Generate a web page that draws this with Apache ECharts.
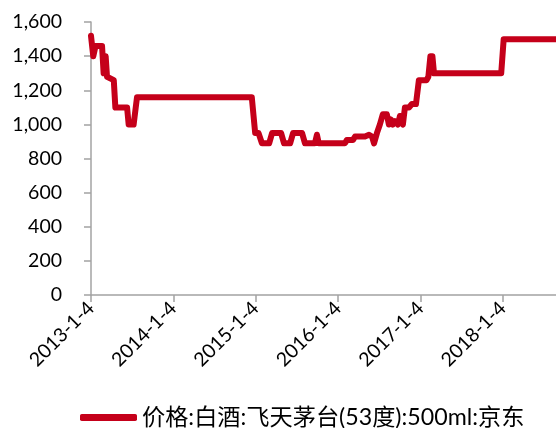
<!DOCTYPE html>
<html>
<head>
<meta charset="utf-8">
<script src="https://cdn.jsdelivr.net/npm/echarts@6/dist/echarts.min.js"></script>
<style>
  html, body { margin: 0; padding: 0; background: #fff; }
  #chart { width: 556px; height: 428px; }
</style>
</head>
<body>
<div id="chart"></div>
<script>
// Weekly JD retail price of Feishen Moutai 53° 500ml (yuan)
const seriesName = '价格:白酒:飞天茅台(53度):500ml:京东';

const dates = [
  '2013-01-04', '2013-01-14', '2013-01-24', '2013-02-22', '2013-03-01', '2013-03-10',
  '2013-03-16', '2013-04-15', '2013-04-22', '2013-06-13', '2013-06-20', '2013-07-12',
  '2013-07-27', '2014-12-18', '2015-01-02', '2015-01-17', '2015-02-01', '2015-03-05',
  '2015-03-18', '2015-04-27', '2015-05-10', '2015-06-06', '2015-06-19', '2015-07-29',
  '2015-08-11', '2015-09-24', '2015-10-03', '2015-10-11', '2016-02-04', '2016-02-13',
  '2016-03-11', '2016-03-20', '2016-05-03', '2016-05-21', '2016-06-03', '2016-06-12',
  '2016-06-25', '2016-07-08', '2016-07-21', '2016-08-08', '2016-08-17', '2016-08-26',
  '2016-09-04', '2016-09-13', '2016-09-26', '2016-10-05', '2016-10-18', '2016-10-27',
  '2016-11-14', '2016-11-27', '2016-12-15', '2016-12-28', '2017-01-31', '2017-02-08',
  '2017-02-17', '2017-02-26', '2017-03-05', '2017-12-28', '2018-01-08', '2018-08-28'
];

const prices = [
  1519, 1399, 1459, 1459, 1299, 1399,
  1279, 1259, 1099, 1099, 999, 999,
  1159, 1159, 949, 949, 889, 889,
  949, 949, 889, 889, 949, 949,
  889, 889, 939, 889, 889, 909,
  909, 929, 929, 939, 929, 889,
  949, 999, 1059, 1059, 999, 1029,
  999, 1019, 999, 1049, 999, 1099,
  1099, 1119, 1119, 1259, 1259, 1279,
  1399, 1399, 1299, 1299, 1499, 1499
];

const xTickDates = ['2013-01-04', '2014-01-04', '2015-01-04', '2016-01-04', '2017-01-04', '2018-01-04'];
const xStart = '2013-01-04';
const xEnd = '2018-08-28';

const yMin = 0;
const yMax = 1600;
const yStep = 200;

// parse 'YYYY-MM-DD' into a UTC timestamp
function toTime(s) {
  const p = s.split('-').map(Number);
  return Date.UTC(p[0], p[1] - 1, p[2]);
}

const tickValues = xTickDates.map(toTime);
const lineData = dates.map((d, i) => [toTime(d), prices[i]]);

const latin = 'Lato, "Noto Sans", sans-serif';
const axisGray = '#A3A3A3';
const red = '#C5001A';

const chart = echarts.init(document.getElementById('chart'), null, { renderer: 'canvas' });
chart.setOption({
  animation: false,
  backgroundColor: '#fff',
  grid: { left: 91, right: 0, top: 22, bottom: 133, containLabel: false },
  xAxis: {
    type: 'value',
    min: toTime(xStart),
    max: toTime(xEnd),
    scale: true,
    axisLine: { show: true, lineStyle: { color: axisGray, width: 1.5 } },
    axisTick: { show: true, length: 7, customValues: tickValues, lineStyle: { color: axisGray, width: 1.5 } },
    axisLabel: {
      customValues: tickValues,
      rotate: 45,
      margin: 10,
      color: '#000',
      fontFamily: latin,
      fontSize: 19.5,
      formatter: function (v) {
        const d = new Date(v);
        return d.getUTCFullYear() + '-' + (d.getUTCMonth() + 1) + '-' + d.getUTCDate();
      }
    },
    splitLine: { show: false }
  },
  yAxis: {
    type: 'value',
    min: yMin,
    max: yMax,
    interval: yStep,
    axisLine: { show: true, lineStyle: { color: axisGray, width: 1.5 } },
    axisTick: { show: true, length: 7, lineStyle: { color: axisGray, width: 1.5 } },
    axisLabel: {
      margin: 29,
      color: '#000',
      fontFamily: latin,
      fontSize: 19.5,
      formatter: function (v) { return v.toLocaleString('en-US'); }
    },
    splitLine: { show: false }
  },
  legend: {
    data: [seriesName],
    left: 75,
    top: 401,
    icon: 'roundRect',
    itemWidth: 57,
    itemHeight: 7,
    textStyle: { color: '#000', fontSize: 23.2, fontFamily: 'Lato, "Noto Sans CJK SC", sans-serif' }
  },
  series: [{
    name: seriesName,
    type: 'line',
    data: lineData,
    showSymbol: false,
    symbol: 'none',
    smooth: false,
    lineStyle: { color: red, width: 6, join: 'round', cap: 'round' },
    itemStyle: { color: red }
  }]
});
</script>
</body>
</html>
